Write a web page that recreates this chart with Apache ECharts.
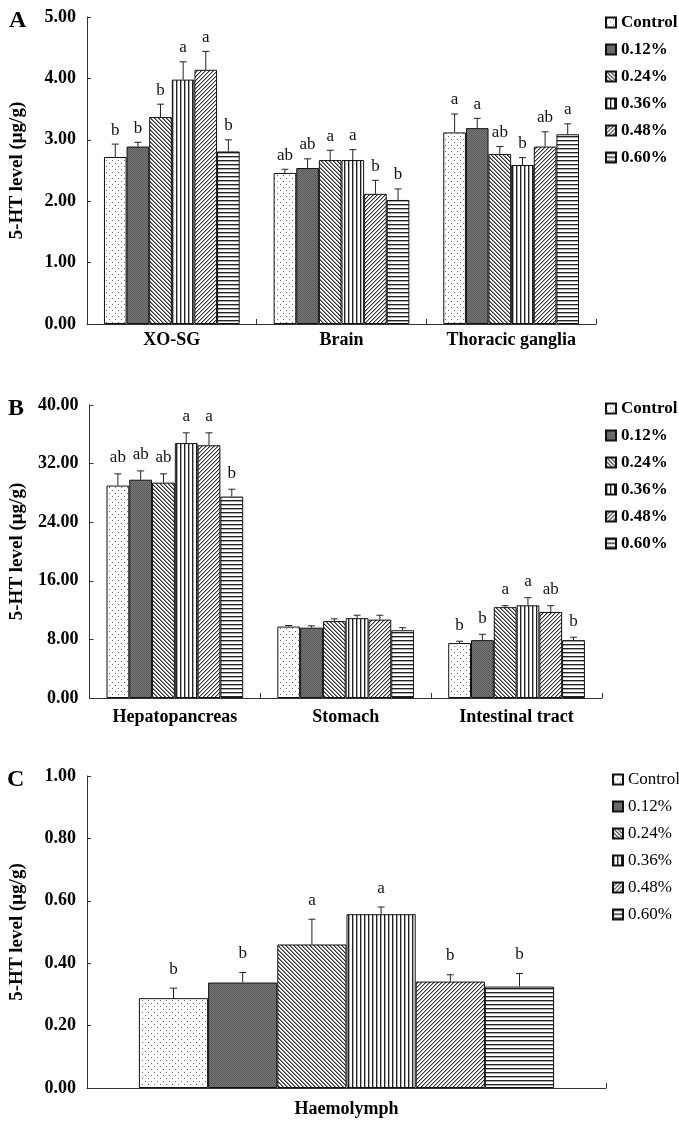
<!DOCTYPE html>
<html>
<head>
<meta charset="utf-8">
<script src="https://cdn.jsdelivr.net/npm/echarts@6/dist/echarts.min.js"></script>
<style>
  html, body { margin: 0; padding: 0; background: #fff; }
  #chart { width: 679px; height: 1121px; }
</style>
</head>
<body>
<div id="chart"></div>
<script>
// Treatment groups (dietary level)
const groups = ['Control', '0.12%', '0.24%', '0.36%', '0.48%', '0.60%'];

// Panel A: nervous tissues
const tissuesA = ['XO-SG', 'Brain', 'Thoracic ganglia'];
const meanA = [
  [2.72, 2.46, 3.12],
  [2.89, 2.54, 3.19],
  [3.37, 2.67, 2.77],
  [3.98, 2.67, 2.59],
  [4.14, 2.12, 2.89],
  [2.81, 2.02, 3.09]
];
const errA = [
  [0.21, 0.06, 0.30],
  [0.07, 0.15, 0.16],
  [0.21, 0.16, 0.12],
  [0.29, 0.17, 0.12],
  [0.30, 0.22, 0.24],
  [0.19, 0.18, 0.17]
];
const letterA = [
  ['b', 'ab', 'a'],
  ['b', 'ab', 'a'],
  ['b', 'a', 'ab'],
  ['a', 'a', 'b'],
  ['a', 'b', 'ab'],
  ['b', 'b', 'a']
];

// Panel B: digestive tissues
const tissuesB = ['Hepatopancreas', 'Stomach', 'Intestinal tract'];
const meanB = [
  [29.0, 9.75, 7.5],
  [29.8, 9.6, 7.9],
  [29.4, 10.5, 12.4],
  [34.8, 10.9, 12.65],
  [34.5, 10.7, 11.75],
  [27.5, 9.25, 7.9]
];
const errB = [
  [1.6, 0.15, 0.25],
  [1.2, 0.25, 0.8],
  [1.2, 0.3, 0.2],
  [1.4, 0.4, 1.05],
  [1.7, 0.6, 0.85],
  [1.0, 0.35, 0.4]
];
const letterB = [
  ['ab', '', 'b'],
  ['ab', '', 'b'],
  ['ab', '', 'a'],
  ['a', '', 'a'],
  ['a', '', 'ab'],
  ['b', '', 'b']
];

// Panel C: haemolymph
const tissuesC = ['Haemolymph'];
const meanC = [[0.288], [0.338], [0.460], [0.557], [0.341], [0.325]];
const errC = [[0.032], [0.032], [0.081], [0.023], [0.022], [0.042]];
const letterC = [['b'], ['b'], ['a'], ['a'], ['b'], ['b']];

// Y axis scales
const yMaxA = 5, yStepA = 1;
const yMaxB = 40, yStepB = 8;
const yMaxC = 1, yStepC = 0.2;

const SERIF = '"Liberation Serif", "Times New Roman", serif';

// Hatch fills built as small repeating canvas tiles
function tile(w, h, draw) {
  const c = document.createElement('canvas');
  c.width = w; c.height = h;
  const g = c.getContext('2d');
  g.fillStyle = '#fff';
  g.fillRect(0, 0, w, h);
  draw(g);
  return c;
}
function px(g, x, y, col) { g.fillStyle = col; g.fillRect(x, y, 1, 1); }

const fills = [
  // sparse dots
  tile(6, 6, g => { px(g, 1, 1, '#666'); px(g, 4, 4, '#666'); }),
  // dense dark grey
  tile(2, 2, g => { g.fillStyle = '#767676'; g.fillRect(0, 0, 2, 2); px(g, 0, 0, '#5c5c5c'); px(g, 1, 1, '#5c5c5c'); }),
  // back diagonal
  tile(4, 4, g => { for (let i = 0; i < 4; i++) { px(g, i, i, '#333'); px(g, (i + 1) % 4, i, '#888'); } }),
  // vertical lines
  tile(4, 1, g => { px(g, 0, 0, '#222'); px(g, 1, 0, '#aaa'); }),
  // forward diagonal
  tile(4, 4, g => { for (let i = 0; i < 4; i++) { px(g, 3 - i, i, '#333'); px(g, (4 - i) % 4, i, '#aaa'); } }),
  // horizontal lines
  tile(1, 4, g => { px(g, 0, 0, '#222'); px(g, 0, 1, '#aaa'); })
].map(c => ({ image: c, repeat: 'repeat' }));

const panels = [
  { cats: tissuesA, mean: meanA, err: errA, letters: letterA, max: yMaxA, step: yStepA, lift: 14, labelMargin: 7 },
  { cats: tissuesB, mean: meanB, err: errB, letters: letterB, max: yMaxB, step: yStepB, lift: 16, labelMargin: 10 },
  { cats: tissuesC, mean: meanC, err: errC, letters: letterC, max: yMaxC, step: yStepC, lift: 19, labelMargin: 12 }
];

const axisColor = '#333';

const xAxes = panels.map((p, i) => ({
  type: 'category',
  gridIndex: i,
  data: p.cats,
  axisLine: { lineStyle: { color: axisColor, width: 1 } },
  axisTick: { show: true, inside: true, length: 5, lineStyle: { color: axisColor } },
  axisLabel: {
    fontFamily: SERIF, fontWeight: 'bold', fontSize: 18, color: '#000',
    margin: p.labelMargin, interval: 0
  }
}));

const yAxes = panels.map((p, i) => ({
  type: 'value',
  gridIndex: i,
  min: 0,
  max: p.max,
  interval: p.step,
  name: '5-HT level (\u03bcg/g)',
  nameLocation: 'middle',
  nameGap: 60,
  nameTextStyle: { fontFamily: SERIF, fontWeight: 'bold', fontSize: 19, color: '#000' },
  axisLine: { show: true, lineStyle: { color: axisColor, width: 1 } },
  axisTick: { show: true, inside: true, length: 4, lineStyle: { color: axisColor } },
  splitLine: { show: false },
  axisLabel: {
    fontFamily: SERIF, fontWeight: 'bold', fontSize: 18, color: '#000', margin: 11,
    formatter: v => v.toFixed(2)
  }
}));

const series = [];
panels.forEach((p, pi) => {
  groups.forEach((name, gi) => {
    series.push({
      type: 'bar',
      name: name,
      xAxisIndex: pi,
      yAxisIndex: pi,
      barGap: '0%',
      barCategoryGap: '20%',
      data: p.mean[gi],
      itemStyle: { color: fills[gi], borderColor: '#111', borderWidth: 1 },
      emphasis: { disabled: true },
      z: 2
    });
  });
  groups.forEach((name, gi) => {
    series.push({
      type: 'custom',
      xAxisIndex: pi,
      yAxisIndex: pi,
      z: 5,
      silent: true,
      data: p.mean[gi].map((v, ci) => [ci, v, p.err[gi][ci]]),
      renderItem: (params, api) => {
        const ci = api.value(0);
        const v = api.value(1);
        const e = api.value(2);
        const band = api.size([1, 0])[0];
        const bw = band * 0.8 / groups.length;
        const base = api.coord([ci, v]);
        const cx = base[0] - band * 0.4 + bw * (gi + 0.5);
        const yBar = base[1];
        const yTop = api.coord([ci, v + e])[1];
        const cap = 3.5;
        const letter = p.letters[gi][params.dataIndex];
        return {
          type: 'group',
          children: [
            { type: 'line', shape: { x1: cx, y1: yBar, x2: cx, y2: yTop }, style: { stroke: '#222', lineWidth: 1 } },
            { type: 'line', shape: { x1: cx - cap, y1: yTop, x2: cx + cap, y2: yTop }, style: { stroke: '#222', lineWidth: 1 } },
            {
              type: 'text',
              style: {
                text: letter, x: cx, y: yTop - p.lift,
                align: 'center', verticalAlign: 'middle',
                font: '17px ' + SERIF, fill: '#111'
              }
            }
          ]
        };
      }
    });
  });
});

const legendBase = {
  orient: 'vertical',
  icon: 'rect',
  itemWidth: 10,
  itemHeight: 10,
  itemGap: 10,
  padding: 0,
  selectedMode: false,
  data: groups,
  textStyle: { fontFamily: SERIF, fontWeight: 'bold', fontSize: 17, color: '#000', lineHeight: 17 }
};

const option = {
  animation: false,
  backgroundColor: '#fff',
  grid: [
    { left: 86, right: 83, top: 17, bottom: 797 },
    { left: 87, right: 77, top: 405, bottom: 423 },
    { left: 85, right: 73, top: 776, bottom: 33 }
  ],
  xAxis: xAxes,
  yAxis: yAxes,
  legend: [
    Object.assign({}, legendBase, { left: 605, top: 14 }),
    Object.assign({}, legendBase, { left: 605, top: 400 }),
    Object.assign({}, legendBase, { left: 612, top: 771,
      textStyle: { fontFamily: SERIF, fontWeight: 'normal', fontSize: 17, color: '#000', lineHeight: 17 } })
  ],
  graphic: [
    { type: 'text', left: 9, top: 9, style: { text: 'A', font: 'bold 24px ' + SERIF, fill: '#000' } },
    { type: 'text', left: 8, top: 397, style: { text: 'B', font: 'bold 24px ' + SERIF, fill: '#000' } },
    { type: 'text', left: 7, top: 768, style: { text: 'C', font: 'bold 24px ' + SERIF, fill: '#000' } }
  ],
  series: series
};

const chart = echarts.init(document.getElementById('chart'), null, { renderer: 'canvas' });
chart.setOption(option);
</script>
</body>
</html>
